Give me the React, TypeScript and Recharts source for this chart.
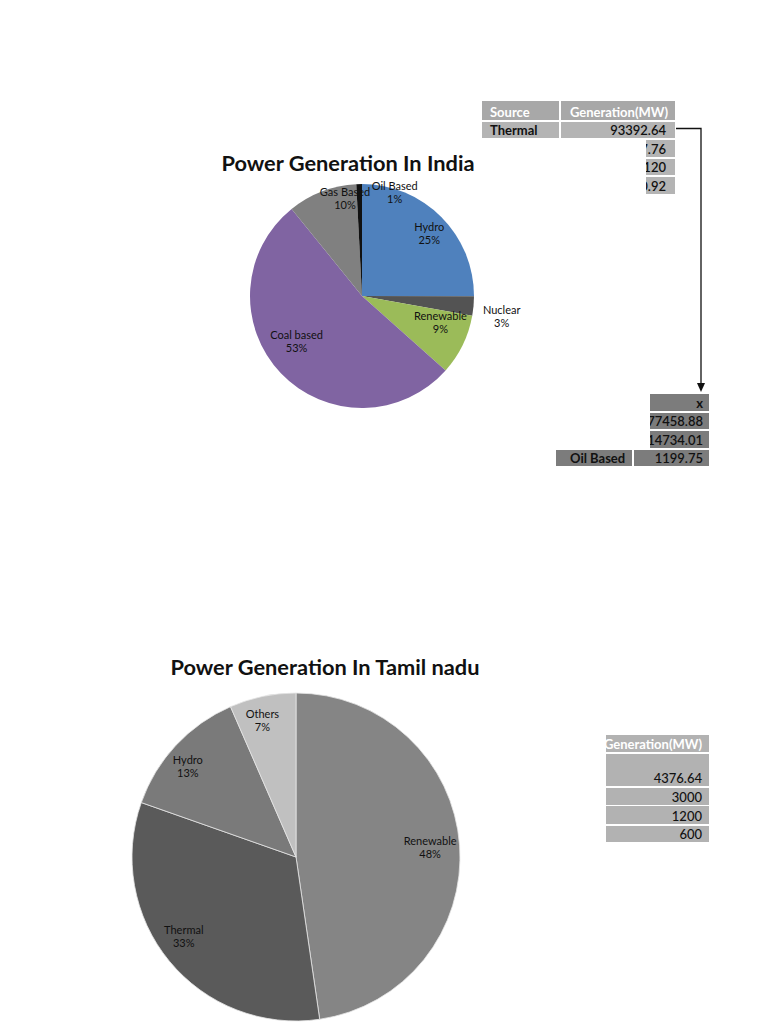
import React from "react";
import { PieChart, Pie, Cell } from "recharts";

// India
const indiaSources = ["Hydro", "Nuclear", "Renewable", "Coal based", "Gas Based", "Oil Based"];
const indiaGeneration = [36877.76, 4120, 12900.92, 77458.88, 14734.01, 1199.75];
const indiaColors = ["#4f81bd", "#535353", "#9bbb59", "#8064a2", "#808080", "#111111"];

const indiaTableSources = ["Thermal", "Hydro", "Nuclear", "Renewable"];
const indiaTableValues = [93392.64, 36877.76, 4120, 12900.92];
const thermalSources = ["Coal based", "Gas Based", "Oil Based"];
const thermalValues = [77458.88, 14734.01, 1199.75];

// Tamil nadu
const tnSources = ["Renewable", "Thermal", "Hydro", "Others"];
const tnGeneration = [4376.64, 3000, 1200, 600];
const tnColors = ["#858585", "#5a5a5a", "#7a7a7a", "#c0c0c0"];

const FONT = "Lato, 'Open Sans', sans-serif";
const RAD = Math.PI / 180;

// label placement: fraction of radius + angle nudge (deg)
const indiaLabelPos: Record<string, { r: number; da: number }> = {
  Hydro: { r: 0.82, da: -2 },
  Nuclear: { r: 1.26, da: -3 },
  Renewable: { r: 0.74, da: 7 },
  "Coal based": { r: 0.71, da: -9 },
  "Gas Based": { r: 0.88, da: -11 },
  "Oil Based": { r: 0.97, da: -19 },
};
const tnLabelPos: Record<string, { r: number; da: number }> = {
  Renewable: { r: 0.82, da: 0 },
  Thermal: { r: 0.84, da: -4 },
  Hydro: { r: 0.86, da: 3 },
  Others: { r: 0.86, da: 2 },
};

const makeLabel = (pos: Record<string, { r: number; da: number }>) => (props: any) => {
  const { cx, cy, midAngle, outerRadius, percent } = props;
  const name = props.name ?? props.payload?.name;
  const p = pos[name] ?? { r: 0.7, da: 0 };
  const a = (midAngle + p.da) * RAD;
  const x = cx + outerRadius * p.r * Math.cos(a);
  const y = cy - outerRadius * p.r * Math.sin(a);
  return (
    <text x={x} y={y} textAnchor="middle" fontFamily={FONT} fontSize={11} fill="#111">
      <tspan x={x} dy={-2.5}>{name}</tspan>
      <tspan x={x} dy={13}>{Math.round(percent * 100)}%</tspan>
    </text>
  );
};

function Box(props: {
  x: number; y: number; w: number; h: number; bg: string; color: string;
  text: string; align?: "left" | "right"; weight?: number; pad?: number;
}) {
  const { x, y, w, h, bg, color, text, align = "left", weight = 700, pad = 8 } = props;
  return (
    <div
      style={{
        position: "absolute", left: x, top: y, width: w, height: h, background: bg, color,
        fontFamily: FONT, fontSize: 13, fontWeight: weight, boxSizing: "border-box",
        display: "flex", alignItems: "flex-end", justifyContent: align === "right" ? "flex-end" : "flex-start",
        paddingLeft: pad, paddingRight: pad, paddingBottom: 0, lineHeight: "16px", whiteSpace: "nowrap",
        overflow: "hidden", zIndex: 1,
      }}
    >
      {text}
    </div>
  );
}

const indiaData = indiaSources.map((name, i) => ({ name, value: indiaGeneration[i] }));
const tnData = tnSources.map((name, i) => ({ name, value: tnGeneration[i] }));

export default function App() {
  const topRowsY = [121.5, 140, 158.5, 177];
  const thermalRowsY = [412.5, 431, 449.5];
  const tnRowsY = [753.5, 787.5, 806, 825.5];
  const tnRowsH = [32.5, 17, 18, 16.5];
  return (
    <div style={{ position: "absolute", left: 0, top: 0, width: 768, height: 1024, background: "#fff", overflow: "hidden" }}>
      {/* India summary table */}
      <Box x={482} y={101} w={77} h={19} bg="#a8a8a8" color="#fff" text="Source" />
      <Box x={561} y={101} w={114} h={19} bg="#a8a8a8" color="#fff" text="Generation(MW)" align="right" pad={7} />
      {indiaTableSources.map((s, i) => (
        <React.Fragment key={s}>
          <Box x={482} y={topRowsY[i]} w={77} h={16.5} bg="#b4b4b4" color="#111" text={s} />
          <Box x={561} y={topRowsY[i]} w={114} h={16.5} bg="#b4b4b4" color="#111" text={String(indiaTableValues[i])} align="right" pad={9} weight={600} />
        </React.Fragment>
      ))}

      {/* Thermal breakdown table */}
      <Box x={556} y={394} w={76} h={17} bg="#7c7c7c" color="#111" text="Thermal" />
      <Box x={634} y={394} w={75} h={17} bg="#7c7c7c" color="#111" text="x" align="right" pad={6} />
      {thermalSources.map((s, i) => (
        <React.Fragment key={s}>
          <Box x={556} y={thermalRowsY[i]} w={76} h={16.5} bg="#7c7c7c" color="#111" text={s} pad={14} />
          <Box x={634} y={thermalRowsY[i]} w={75} h={16.5} bg="#7c7c7c" color="#111" text={String(thermalValues[i])} align="right" pad={6} weight={600} />
        </React.Fragment>
      ))}

      {/* Tamil nadu table */}
      <Box x={490} y={735} w={105} h={17} bg="#b2b2b2" color="#fff" text="Source" />
      <Box x={597} y={735} w={112} h={17} bg="#b2b2b2" color="#fff" text="Generation(MW)" align="right" pad={7} />
      {tnSources.map((s, i) => (
        <React.Fragment key={s}>
          <Box x={490} y={tnRowsY[i]} w={105} h={tnRowsH[i]} bg="#b2b2b2" color="#111" text={s} />
          <Box x={597} y={tnRowsY[i]} w={112} h={tnRowsH[i]} bg="#b2b2b2" color="#111" text={String(tnGeneration[i])} align="right" pad={7} weight={500} />
        </React.Fragment>
      ))}

      {/* arrow from Thermal row to breakdown */}
      <svg width={768} height={1024} style={{ position: "absolute", left: 0, top: 0, zIndex: 3, pointerEvents: "none" }}>
        <polyline points="676,128.5 701,128.5 701,384" fill="none" stroke="#111" strokeWidth={1.3} />
        <polygon points="697,383 705,383 701,392" fill="#111" />
      </svg>

      {/* India chart area */}
      <div style={{ position: "absolute", left: 150, top: 139, width: 496, height: 310, background: "#fff", zIndex: 2 }}>
        <div style={{ position: "absolute", left: 0, top: 11, width: 396, textAlign: "center", fontFamily: FONT, fontWeight: 700, fontSize: 21.8, lineHeight: "26px", color: "#111" }}>
          Power Generation In India
        </div>
        <PieChart width={496} height={310} margin={{ top: 0, right: 0, bottom: 0, left: 0 }}>
          <Pie
            data={indiaData}
            dataKey="value"
            nameKey="name"
            cx={212}
            cy={157}
            outerRadius={112}
            startAngle={90}
            endAngle={-270}
            stroke="none"
            label={makeLabel(indiaLabelPos)}
            labelLine={false}
            isAnimationActive={false}
          >
            {indiaData.map((d, i) => (
              <Cell key={d.name} fill={indiaColors[i]} />
            ))}
          </Pie>
        </PieChart>
      </div>
      <div style={{ position: "absolute", left: 640, top: 390, width: 10, height: 59, background: "#fff", zIndex: 2 }} />

      {/* Tamil nadu chart area */}
      <div style={{ position: "absolute", left: 100, top: 640, width: 506, height: 384, background: "#fff", zIndex: 2 }}>
        <div style={{ position: "absolute", left: 0, top: 14, width: 450, textAlign: "center", fontFamily: FONT, fontWeight: 700, fontSize: 21.8, lineHeight: "26px", color: "#111" }}>
          Power Generation In Tamil nadu
        </div>
        <PieChart width={506} height={384} margin={{ top: 0, right: 0, bottom: 0, left: 0 }}>
          <Pie
            data={tnData}
            dataKey="value"
            nameKey="name"
            cx={196}
            cy={217}
            outerRadius={164}
            startAngle={90}
            endAngle={-270}
            stroke="#e6e6e6"
            strokeWidth={0.8}
            label={makeLabel(tnLabelPos)}
            labelLine={false}
            isAnimationActive={false}
          >
            {tnData.map((d, i) => (
              <Cell key={d.name} fill={tnColors[i]} />
            ))}
          </Pie>
        </PieChart>
      </div>
    </div>
  );
}
